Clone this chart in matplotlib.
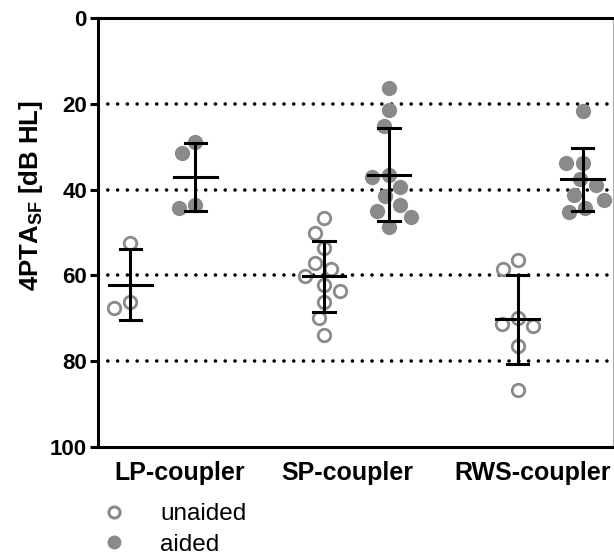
import numpy as np
import matplotlib.pyplot as plt
import matplotlib.transforms as mtransforms
from matplotlib.lines import Line2D

plt.rcParams['font.family'] = 'Liberation Sans'
plt.rcParams['mathtext.fontset'] = 'custom'
plt.rcParams['mathtext.bf'] = 'Liberation Sans:bold'
plt.rcParams['mathtext.rm'] = 'Liberation Sans'

# data (dB HL)
groups = ['LP-coupler', 'SP-coupler', 'RWS-coupler']
lp_unaided = [52.5, 66.3, 67.6]
lp_aided = [29.0, 31.5, 43.6, 44.2]
sp_unaided = [46.6, 50.0, 53.6, 57.0, 58.5, 60.2, 62.2, 63.6, 66.2, 70.0, 73.9]
sp_aided = [16.4, 21.4, 25.2, 37.0, 36.5, 39.5, 41.5, 43.5, 45.0, 46.5, 48.8]
rws_unaided = [56.4, 58.5, 70.0, 71.4, 71.8, 76.5, 86.7]
rws_aided = [21.6, 33.7, 33.9, 37.6, 38.9, 41.3, 42.4, 44.2, 45.2]

unaided = [lp_unaided, sp_unaided, rws_unaided]
aided = [lp_aided, sp_aided, rws_aided]

grey = '#8a8a8a'
W, H, DPI = 614, 558, 100

fig = plt.figure(figsize=(W / DPI, H / DPI), dpi=DPI)
ax = fig.add_axes([98 / W, 1 - 447 / H, 515 / W, 429 / H])

xmin, xmax = -0.335, 2.325
ymin, ymax = 0, 100
px_x = 515 / (xmax - xmin)   # pixels per x unit
px_y = 429 / (ymax - ymin)   # pixels per y unit
dodge = 0.168


def swarm(vals, diam=17.0):
    # simple beeswarm in pixel space, returns x offsets in data units
    placed = []
    offs = []
    for v in vals:
        y = v * px_y
        cands = [0.0]
        for cx, cy in placed:
            dy = y - cy
            if abs(dy) < diam:
                dx = np.sqrt(diam ** 2 - dy ** 2)
                cands += [cx - dx, cx + dx]
        cands.sort(key=lambda c: (abs(c), c))
        for c in cands:
            if all((c - cx) ** 2 + (y - cy) ** 2 >= diam ** 2 - 1e-6 for cx, cy in placed):
                break
        placed.append((c, y))
        offs.append(c / px_x)
    return np.array(offs)


for yv in [20, 40, 60, 80]:
    ax.axhline(yv, color='black', lw=2.6, ls=(0, (0.01, 2.7)),
               dash_capstyle='round', zorder=1)

for i in range(len(groups)):
    for vals, pos, filled in [(unaided[i], i - dodge, False), (aided[i], i + dodge, True)]:
        vals = np.sort(np.array(vals))
        xs = pos + swarm(vals)
        if filled:
            ax.plot(xs, vals, 'o', ms=11, mfc=grey, mec=grey, mew=0, zorder=2,
                    clip_on=False)
        else:
            ax.plot(xs, vals, 'o', ms=9.0, mfc='white', mec=grey, mew=2.0, zorder=2,
                    clip_on=False)
        m = vals.mean()
        sd = vals.std(ddof=1)
        ax.plot([pos, pos], [m - sd, m + sd], color='black', lw=2.2, zorder=3)
        ax.plot([pos - 0.055, pos + 0.055], [m - sd, m - sd], color='black', lw=2.2, zorder=3)
        ax.plot([pos - 0.055, pos + 0.055], [m + sd, m + sd], color='black', lw=2.2, zorder=3)
        ax.plot([pos - 0.11, pos + 0.11], [m, m], color='black', lw=2.2, zorder=3)

ax.set_xlim(xmin, xmax)
ax.set_ylim(ymax, ymin)
ax.set_yticks([0, 20, 40, 60, 80, 100])
ax.set_xticks(range(len(groups)))
ax.set_xticklabels(groups)
ax.tick_params(axis='y', length=6, width=2.2, labelsize=16, pad=2)
ax.tick_params(axis='x', length=0, labelsize=18, pad=10)
for lab in ax.get_xticklabels() + ax.get_yticklabels():
    lab.set_fontweight('bold')

# category labels sit a little off their group centres in the original
label_shift = [17, -9, -17]
for lab, dx in zip(ax.get_xticklabels(), label_shift):
    lab.set_transform(lab.get_transform() +
                      mtransforms.ScaledTranslation(dx / DPI, 0, fig.dpi_scale_trans))

for s in ['left', 'top', 'bottom']:
    ax.spines[s].set_linewidth(2.2)
    ax.spines[s].set_color('black')
ax.spines['right'].set_linewidth(0.8)
ax.spines['right'].set_color('#b0b0b0')

ax.set_ylabel(r'4PTA$_{\mathbf{SF}}$ [dB HL]', fontsize=18.5, fontweight='bold')
ax.yaxis.set_label_coords(-0.103, 0.587)

handles = [
    Line2D([], [], ls='none', marker='o', ms=8.0, mfc='white', mec=grey, mew=2.2),
    Line2D([], [], ls='none', marker='o', ms=10, mfc=grey, mec=grey, mew=0),
]
fig.legend(handles, ['unaided', 'aided'], loc='upper left',
           bbox_to_anchor=(102 / W, 1 - 503 / H), frameon=False, fontsize=17.5,
           handlelength=1.0, handletextpad=1.39, labelspacing=0.36,
           borderpad=0, borderaxespad=0)

fig.savefig('out.png', dpi=DPI)
